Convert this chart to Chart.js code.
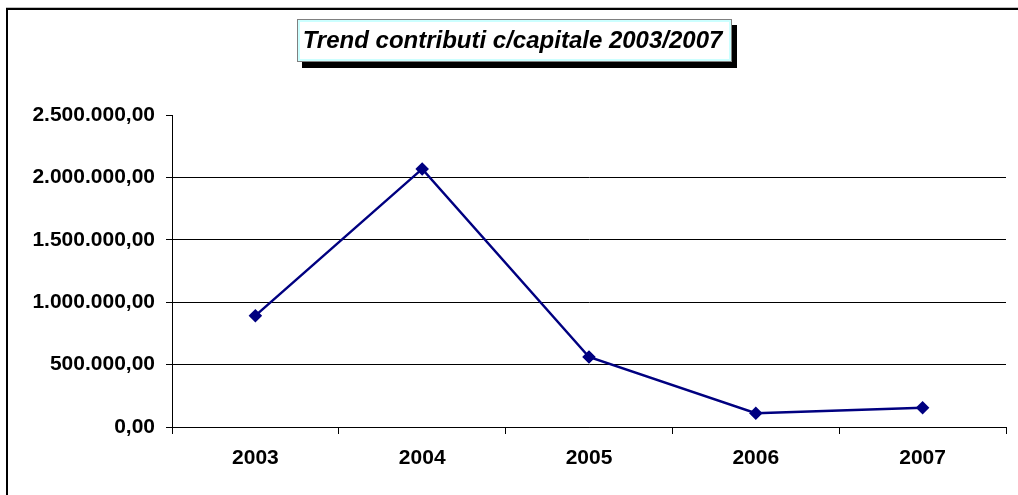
<!DOCTYPE html>
<html>
<head>
<meta charset="utf-8">
<title>Trend contributi c/capitale 2003/2007</title>
<script src="https://cdn.jsdelivr.net/npm/chart.js@4"></script>
<style>
  html, body { margin: 0; padding: 0; background: #fff; }
  #wrap { width: 1018px; height: 495px; position: relative; }
</style>
</head>
<body>
<div id="wrap"><canvas id="trendChart" width="1018" height="495"></canvas></div>
<script>
// Chart data
const years = ["2003", "2004", "2005", "2006", "2007"];
const contributi = [892000, 2068000, 561000, 110000, 155000];
const yTicks = [0, 500000, 1000000, 1500000, 2000000, 2500000];
const chartTitle = "Trend contributi c/capitale 2003/2007";

// Italian number format: 2.500.000,00
function formatIt(value) {
  const parts = Number(value).toFixed(2).split(".");
  const intPart = parts[0].replace(/\B(?=(\d{3})+(?!\d))/g, ".");
  return intPart + "," + parts[1];
}

// Outer frame and title box with shadow
const framePlugin = {
  id: "frame",
  beforeDraw(chart) {
    const ctx = chart.ctx;
    ctx.save();
    ctx.fillStyle = "#ffffff";
    ctx.fillRect(0, 0, chart.width, chart.height);
    ctx.strokeStyle = "#c0c0c0";
    ctx.lineWidth = 1;
    ctx.beginPath();
    ctx.moveTo(6, 7.5);
    ctx.lineTo(chart.width, 7.5);
    ctx.stroke();
    ctx.strokeStyle = "#000000";
    ctx.lineWidth = 2;
    ctx.beginPath();
    ctx.moveTo(7, chart.height);
    ctx.lineTo(7, 9);
    ctx.lineTo(chart.width, 9);
    ctx.stroke();
    ctx.restore();
  },
  afterDraw(chart) {
    const ctx = chart.ctx;
    const x = 297, y = 19, w = 435, h = 43;
    ctx.save();
    // shadow
    ctx.fillStyle = "#000000";
    ctx.fillRect(x + 5, y + 6, w, h);
    // box
    ctx.fillStyle = "#ccffff";
    ctx.fillRect(x, y, w, h);
    ctx.fillStyle = "#ffffff";
    ctx.fillRect(x + 3, y + 3, w - 6, h - 6);
    ctx.strokeStyle = "#808080";
    ctx.lineWidth = 1;
    ctx.strokeRect(x + 0.5, y + 0.5, w - 1, h - 1);
    // text
    ctx.fillStyle = "#000000";
    ctx.font = "italic bold 24px 'Liberation Sans', Arial";
    ctx.textAlign = "center";
    ctx.textBaseline = "middle";
    ctx.fillText(chartTitle, x + w / 2 - 2, y + h / 2 + 1);
    ctx.restore();
  },
};

const tickFont = { family: "'Liberation Sans', Arial", size: 21, weight: "bold" };

const ctx = document.getElementById("trendChart").getContext("2d");
const trendChart = new Chart(ctx, {
  type: "line",
  data: {
    labels: years,
    datasets: [
      {
        label: "Contributi c/capitale",
        data: contributi,
        borderColor: "#000080",
        backgroundColor: "#000080",
        borderWidth: 2.5,
        tension: 0,
        fill: false,
        pointStyle: "rectRot",
        pointRadius: 5,
        pointHoverRadius: 5,
        pointBackgroundColor: "#000080",
        pointBorderColor: "#000080",
      },
    ],
  },
  options: {
    responsive: false,
    animation: false,
    layout: {
      padding: { left: 0, right: 12, top: 115, bottom: 0 },
    },
    plugins: {
      legend: { display: false },
      title: { display: false },
      tooltip: { enabled: false },
    },
    scales: {
      x: {
        offset: true,
        grid: {
          offset: true,
          drawOnChartArea: false,
          color: "#000000",
          tickLength: 7,
        },
        border: { color: "#000000", width: 1 },
        ticks: {
          color: "#000000",
          font: tickFont,
          padding: 12,
          maxRotation: 0,
        },
        afterFit(scale) {
          scale.height = 68;
        },
      },
      y: {
        min: 0,
        max: 2500000,
        afterBuildTicks(scale) {
          scale.ticks = yTicks.map((v) => ({ value: v }));
        },
        grid: {
          color: (c) => (c.tick && c.tick.value === 2500000 ? "rgba(0,0,0,0)" : "#000000"),
          tickColor: "#000000",
          tickLength: 6,
        },
        border: { color: "#000000", width: 1 },
        ticks: {
          color: "#000000",
          font: tickFont,
          padding: 11,
          callback: (value) => formatIt(value),
        },
        afterFit(scale) {
          scale.width = 172;
        },
      },
    },
  },
  plugins: [framePlugin],
});
</script>
</body>
</html>
